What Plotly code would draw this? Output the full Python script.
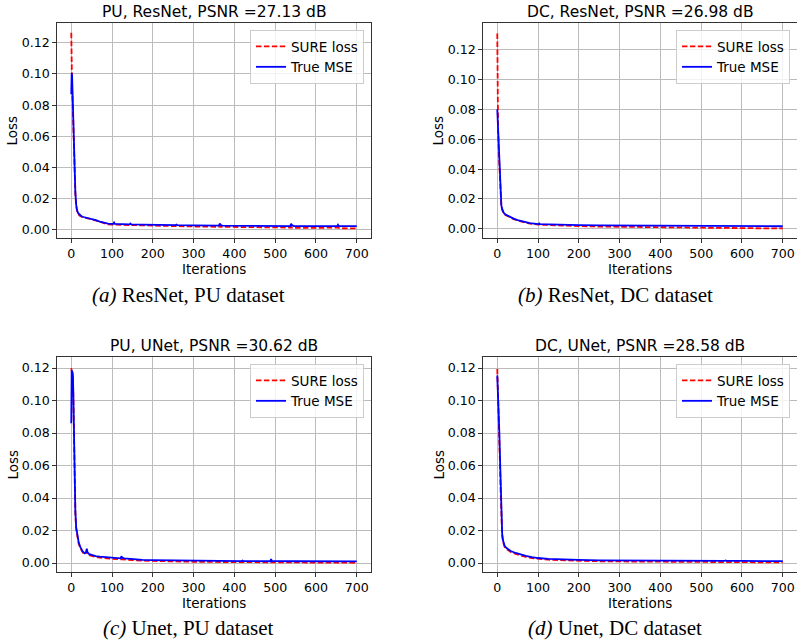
import plotly.graph_objects as go

# ---------------- data ----------------
# (a) ResNet, PU dataset
a_sure_it = [0, 1, 2, 4, 6, 8, 10, 12, 14, 17, 20, 25, 30, 40, 50, 60, 70, 80, 90, 100, 125, 150, 200, 250, 300,
             362, 364, 366, 400, 450, 500, 538, 540, 542, 600, 653, 655, 657, 700]
a_sure = [0.1265, 0.095, 0.090, 0.077, 0.056, 0.036, 0.023, 0.0155, 0.012, 0.010, 0.009, 0.0082, 0.0077, 0.0071,
          0.0066, 0.0057, 0.0046, 0.0038, 0.0033, 0.0031, 0.0029, 0.0027, 0.0024, 0.0021, 0.0019,
          0.0017, 0.0025, 0.0017, 0.0016, 0.0014, 0.0012, 0.0012, 0.0018, 0.0011, 0.0010, 0.0009, 0.0013,
          0.0008, 0.0007]
a_mse_it = [0, 1, 2, 4, 6, 8, 10, 12, 14, 17, 20, 25, 30, 40, 50, 60, 70, 80, 90, 100, 103, 105, 107, 125, 143,
            145, 147, 175, 200, 230, 256, 258, 260, 300, 340, 362, 364, 366, 370, 400, 450, 500, 537, 539, 541,
            546, 600, 652, 654, 656, 700]
a_mse = [0.087, 0.1005, 0.099, 0.080, 0.058, 0.038, 0.024, 0.016, 0.0125, 0.0105, 0.0095, 0.0085, 0.008, 0.0074,
         0.0069, 0.0060, 0.0050, 0.0042, 0.0038, 0.0036, 0.0036, 0.0045, 0.0036, 0.0034, 0.0033, 0.0038,
         0.0033, 0.0031, 0.0029, 0.0028, 0.0028, 0.0031, 0.0028, 0.0026, 0.0025, 0.0025, 0.0038, 0.0030,
         0.0025, 0.0024, 0.0023, 0.0022, 0.0022, 0.0036, 0.0028, 0.0022, 0.0021, 0.0021, 0.0030, 0.0022,
         0.0021]

# (b) ResNet, DC dataset
b_sure_it = [0, 1, 2, 4, 6, 8, 10, 13, 16, 20, 30, 40, 50, 65, 80, 100, 130, 170, 200, 250, 300, 350, 400, 450,
             500, 550, 600, 650, 700]
b_sure = [0.131, 0.078, 0.066, 0.050, 0.036, 0.021, 0.0150, 0.0120, 0.0103, 0.0093, 0.0078, 0.0065, 0.0055,
          0.0042, 0.0034, 0.0028, 0.0024, 0.0020, 0.0018, 0.0015, 0.0013, 0.0011, 0.0010, 0.0008, 0.0007,
          0.0006, 0.0004, 0.0003, 0.0002]
b_mse_it = [0, 2, 4, 6, 8, 10, 13, 16, 20, 30, 40, 50, 65, 80, 101, 103, 105, 130, 170, 200, 250, 300, 350, 400,
            450, 500, 550, 600, 650, 700]
b_mse = [0.080, 0.066, 0.050, 0.037, 0.022, 0.0155, 0.0125, 0.0106, 0.0096, 0.0081, 0.0068, 0.0058, 0.0046,
         0.0038, 0.0031, 0.0036, 0.0031, 0.0028, 0.0025, 0.0024, 0.0023, 0.0022, 0.0021, 0.0020, 0.0019,
         0.0019, 0.0018, 0.0018, 0.0017, 0.0017]

# (c) Unet, PU dataset
c_sure_it = [0, 1, 2, 4, 5, 6, 8, 10, 12, 14, 18, 22, 28, 33, 36, 38, 40, 44, 50, 60, 70, 80, 100, 125, 150, 200,
             250, 300, 400, 500, 600, 700]
c_sure = [0.120, 0.118, 0.117, 0.113, 0.103, 0.087, 0.060, 0.031, 0.021, 0.017, 0.0122, 0.0093, 0.0066, 0.0055,
          0.0058, 0.0075, 0.0058, 0.0049, 0.0043, 0.0037, 0.0034, 0.0031, 0.0026, 0.0023, 0.0018, 0.0013,
          0.0010, 0.0008, 0.0006, 0.0004, 0.0003, 0.0002]
c_mse_it = [0, 1, 2, 3, 4, 5, 6, 8, 10, 12, 14, 18, 22, 28, 33, 36, 38, 40, 44, 50, 60, 70, 80, 100, 121, 123,
            125, 130, 150, 175, 200, 250, 258, 260, 263, 300, 350, 400, 418, 420, 422, 450, 488, 490, 492, 550,
            600, 650, 700]
c_mse = [0.086, 0.1185, 0.118, 0.1175, 0.116, 0.105, 0.088, 0.062, 0.032, 0.022, 0.018, 0.013, 0.010, 0.0072,
         0.0060, 0.0065, 0.0088, 0.0065, 0.0055, 0.0049, 0.0043, 0.0040, 0.0037, 0.0032, 0.0029, 0.0042,
         0.0033, 0.0029, 0.0024, 0.0020, 0.0018, 0.0016, 0.0016, 0.0020, 0.0016, 0.0014, 0.0013, 0.0012,
         0.0012, 0.0015, 0.0012, 0.0012, 0.0011, 0.0024, 0.0012, 0.0011, 0.0010, 0.0010, 0.0010]

# (d) Unet, DC dataset
d_sure_it = [0, 1, 2, 3, 4, 5, 6, 7, 8, 10, 12, 14, 16, 18, 22, 26, 33, 45, 57, 70, 85, 100, 125, 150, 200, 250,
             300, 400, 500, 600, 700]
d_sure = [0.1195, 0.112, 0.105, 0.097, 0.089, 0.080, 0.070, 0.058, 0.046, 0.030, 0.017, 0.0133, 0.0113, 0.0100,
          0.0088, 0.0080, 0.0068, 0.0056, 0.0045, 0.0038, 0.0031, 0.0026, 0.0021, 0.0018, 0.0013, 0.0011,
          0.0010, 0.0008, 0.0007, 0.0005, 0.0004]
d_mse_it = [0, 1, 2, 3, 4, 5, 6, 7, 8, 10, 12, 14, 16, 18, 22, 26, 33, 45, 57, 70, 85, 100, 125, 150, 200, 250,
            300, 338, 340, 342, 400, 500, 558, 560, 562, 600, 700]
d_mse = [0.1155, 0.110, 0.104, 0.097, 0.089, 0.081, 0.071, 0.059, 0.047, 0.031, 0.018, 0.014, 0.012, 0.0106,
         0.0094, 0.0086, 0.0074, 0.0062, 0.0052, 0.0044, 0.0037, 0.0031, 0.0026, 0.0023, 0.0019, 0.0017,
         0.0016, 0.0016, 0.0018, 0.0016, 0.0015, 0.0014, 0.0014, 0.0016, 0.0014, 0.0013, 0.0012]

titles = ["PU, ResNet, PSNR =27.13 dB", "DC, ResNet, PSNR =26.98 dB",
          "PU, UNet, PSNR =30.62 dB", "DC, UNet, PSNR =28.58 dB"]
captions = [("(a)", "ResNet, PU dataset"), ("(b)", "ResNet, DC dataset"),
            ("(c)", "Unet, PU dataset"), ("(d)", "Unet, DC dataset")]
series_names = ["SURE loss", "True MSE"]
x_ticks = [0, 100, 200, 300, 400, 500, 600, 700]
y_ranges = [[-0.0055, 0.1328], [-0.0062, 0.1381], [-0.0055, 0.1268], [-0.0055, 0.1268]]

panels = [(a_sure_it, a_sure, a_mse_it, a_mse),
          (b_sure_it, b_sure, b_mse_it, b_mse),
          (c_sure_it, c_sure, c_mse_it, c_mse),
          (d_sure_it, d_sure, d_mse_it, d_mse)]

# ---------------- layout geometry (pixels) ----------------
W, H = 797, 643
px_x = [(57, 371), (483, 797), (57, 371), (483, 797)]
px_y = [(23, 238), (23, 238), (357, 572), (357, 572)]
cap_cx = [188, 615, 188, 615]
cap_cy = [295, 295, 628, 628]


def fx(p):
    return p / W


def fy(p):
    return 1 - p / H


TICKFONT = dict(family="DejaVu Sans", size=12.6, color="#000000")
LABFONT = dict(family="DejaVu Sans", size=13.5, color="#000000")

fig = go.Figure()
annotations = []
layout = dict(width=W, height=H, margin=dict(l=0, r=0, t=0, b=0),
              paper_bgcolor="white", plot_bgcolor="white", showlegend=True)

for i, (s_it, s_v, m_it, m_v) in enumerate(panels):
    k = "" if i == 0 else str(i + 1)
    lg = "legend" if i == 0 else "legend" + str(i + 1)
    fig.add_trace(go.Scatter(x=s_it, y=s_v, mode="lines", name=series_names[0],
                             line=dict(color="#ff0000", width=1.8, dash="5.5px,2.4px"),
                             xaxis="x" + k, yaxis="y" + k, legend=lg))
    fig.add_trace(go.Scatter(x=m_it, y=m_v, mode="lines", name=series_names[1],
                             line=dict(color="#0000ff", width=1.8),
                             xaxis="x" + k, yaxis="y" + k, legend=lg))
    x0, x1 = px_x[i]
    y0, y1 = px_y[i]
    axcommon = dict(showgrid=True, gridcolor="#bcbcbc", gridwidth=1, showline=True, mirror=True,
                    linecolor="#333333", linewidth=1.2, ticks="outside", ticklen=3.5, tickwidth=1,
                    tickcolor="#333333", tickfont=TICKFONT, zeroline=False)
    layout["xaxis" + k] = dict(axcommon, domain=[fx(x0), fx(x1)], range=[-35, 735],
                               tickvals=x_ticks, anchor="y" + k)
    layout["yaxis" + k] = dict(axcommon, domain=[fy(y1), fy(y0)], range=y_ranges[i],
                               tick0=0, dtick=0.02, tickformat=".2f", anchor="x" + k)
    layout[lg] = dict(x=fx(x1 - 7), y=fy(y0 + 7), xanchor="right", yanchor="top",
                      bgcolor="rgba(255,255,255,0.8)", bordercolor="#cccccc", borderwidth=1,
                      font=dict(family="DejaVu Sans", size=13.5, color="#000000"),
                      tracegroupgap=0, itemwidth=30)
    cx = (x0 + x1) / 2
    annotations.append(dict(text=titles[i], x=fx(cx), y=fy(y0 - 11), xref="paper", yref="paper",
                            showarrow=False, xanchor="center", yanchor="middle",
                            font=dict(family="DejaVu Sans", size=15.5, color="#000000")))
    annotations.append(dict(text="Iterations", x=fx(cx), y=fy(y1 + 31), xref="paper", yref="paper",
                            showarrow=False, xanchor="center", yanchor="middle", font=LABFONT))
    annotations.append(dict(text="Loss", x=fx(x0 - 45), y=fy((y0 + y1) / 2), xref="paper", yref="paper",
                            showarrow=False, xanchor="center", yanchor="middle", textangle=-90,
                            font=LABFONT))
    annotations.append(dict(text="<i>" + captions[i][0] + "</i> " + captions[i][1],
                            x=fx(cap_cx[i]), y=fy(cap_cy[i]), xref="paper", yref="paper",
                            showarrow=False, xanchor="center", yanchor="middle",
                            font=dict(family="Liberation Serif", size=21, color="#000000")))

layout["annotations"] = annotations
fig.update_layout(**layout)
fig.write_html("out.html")
